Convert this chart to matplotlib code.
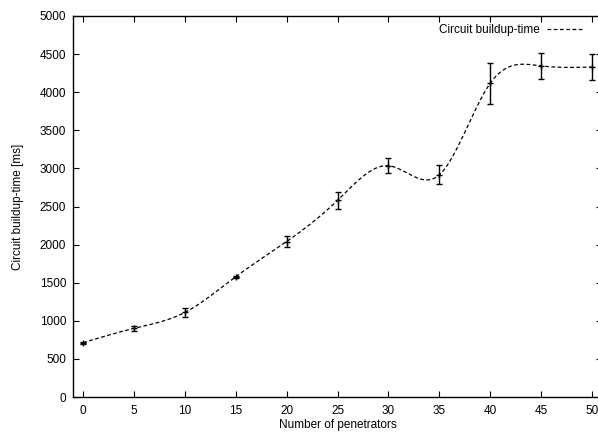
import numpy as np
import matplotlib
matplotlib.use('Agg')
import matplotlib.pyplot as plt

penetrators = [0, 5, 10, 15, 20, 25, 30, 35, 40, 45, 50]
buildup_ms = [713, 901, 1110, 1579, 2040, 2580, 3035, 2915, 4115, 4345, 4330]
buildup_err = [12, 35, 60, 15, 75, 115, 100, 125, 270, 170, 170]
y_ticks = [0, 500, 1000, 1500, 2000, 2500, 3000, 3500, 4000, 4500, 5000]
x_ticks = [0, 5, 10, 15, 20, 25, 30, 35, 40, 45, 50]


def natural_spline(x, y, xs):
    # gnuplot의 smooth csplines 와 같은 자연 3차 스플라인
    x = np.asarray(x, float)
    y = np.asarray(y, float)
    n = len(x)
    h = np.diff(x)
    A = np.zeros((n, n))
    b = np.zeros(n)
    A[0, 0] = A[-1, -1] = 1.0
    for i in range(1, n - 1):
        A[i, i - 1] = h[i - 1]
        A[i, i] = 2 * (h[i - 1] + h[i])
        A[i, i + 1] = h[i]
        b[i] = 3 * ((y[i + 1] - y[i]) / h[i] - (y[i] - y[i - 1]) / h[i - 1])
    c = np.linalg.solve(A, b)
    idx = np.clip(np.searchsorted(x, xs) - 1, 0, n - 2)
    dx = xs - x[idx]
    hb = h[idx]
    bb = (y[idx + 1] - y[idx]) / hb - hb * (2 * c[idx] + c[idx + 1]) / 3
    dd = (c[idx + 1] - c[idx]) / (3 * hb)
    return y[idx] + bb * dx + c[idx] * dx ** 2 + dd * dx ** 3


FS = 8.5
plt.rcParams['font.family'] = ['Liberation Sans', 'DejaVu Sans']
plt.rcParams['font.size'] = FS

fig = plt.figure(figsize=(5.98, 4.32), dpi=100)
ax = fig.add_axes([73 / 598, 35 / 432, 529 / 598, 381 / 432])

xs = np.linspace(0, 50, 500)
ax.plot(xs, natural_spline(penetrators, buildup_ms, xs), color='black',
        lw=0.9, dashes=(3, 2), label='Circuit buildup-time')
ax.errorbar(penetrators, buildup_ms, yerr=buildup_err, fmt='+', color='black',
            ms=5, mew=1.0, elinewidth=1.0, capsize=2.5, capthick=1.0)

ax.set_xlim(-1, 51)
ax.set_ylim(0, 5000)
ax.set_xticks(x_ticks)
ax.set_yticks(y_ticks)
ax.tick_params(direction='in', length=4, width=0.8, top=True, right=True,
               pad=5, labelsize=FS)
ax.tick_params(axis='x', pad=6)
for s in ax.spines.values():
    s.set_linewidth(1.0)

ax.set_xlabel('Number of penetrators', fontsize=FS, labelpad=1.5)
ax.set_ylabel('Circuit buildup-time [ms]', fontsize=FS, labelpad=11)

leg = ax.legend(loc='upper right', frameon=False, markerfirst=False,
                handlelength=3.0, handletextpad=0.6, borderaxespad=0.3,
                fontsize=FS, bbox_to_anchor=(0.978, 1.0))

fig.savefig('out.png', dpi=100)
